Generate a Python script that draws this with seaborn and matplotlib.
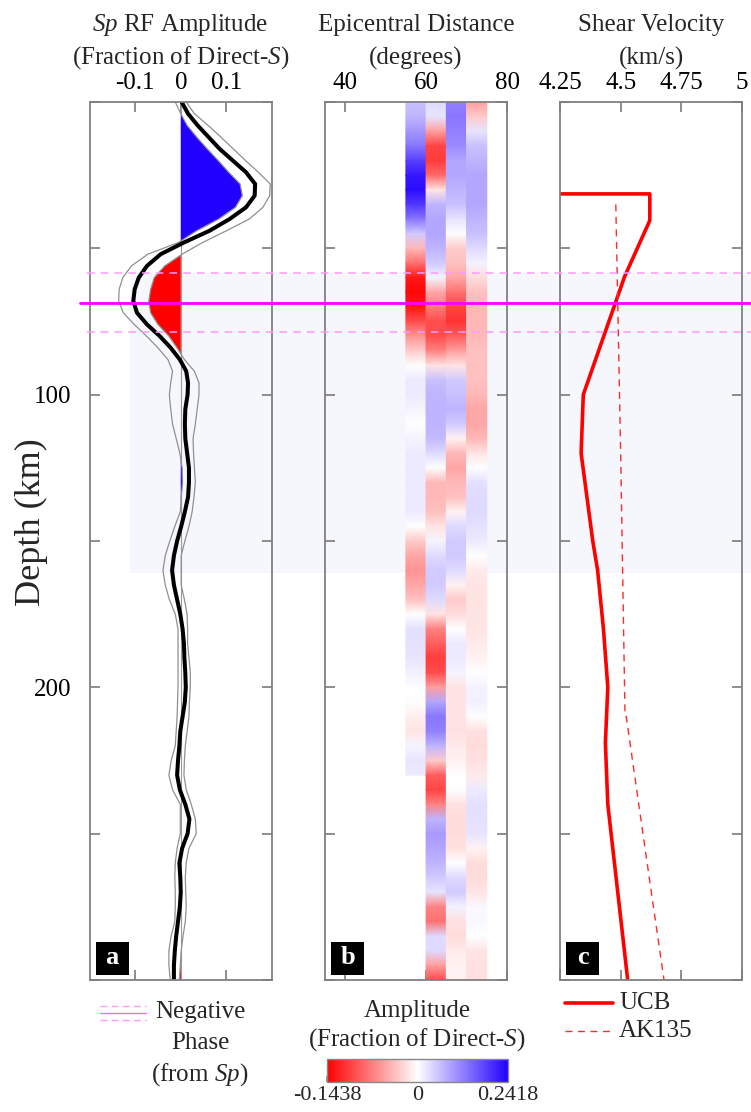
import numpy as np
import matplotlib
matplotlib.use("Agg")
import matplotlib.pyplot as plt
import seaborn as sns
from matplotlib.colors import LinearSegmentedColormap, TwoSlopeNorm
from matplotlib.cm import ScalarMappable
from matplotlib.patches import Rectangle
from matplotlib.lines import Line2D

# ---------------- data ----------------
# Panel a: Sp receiver function (depth km, amplitude, lower / upper bound)
rf_depth = [0, 4, 8, 12, 16, 20, 24, 28, 32, 36, 40, 44, 48, 52, 56, 60, 64, 68, 72, 76,
            80, 84, 88, 92, 96, 100, 105, 110, 115, 120, 125, 130, 135, 140, 145, 150,
            155, 160, 165, 170, 175, 180, 185, 190, 195, 200, 205, 210, 215, 220, 225,
            230, 235, 240, 245, 250, 255, 260, 265, 270, 275, 280, 285, 290, 295, 300]
rf_amp = [0.002, 0.016, 0.037, 0.061, 0.085, 0.114, 0.143, 0.163, 0.162, 0.143, 0.107,
          0.063, 0.007, -0.044, -0.074, -0.092, -0.101, -0.104, -0.096, -0.074, -0.046,
          -0.022, -0.002, 0.012, 0.016, 0.015, 0.010, 0.009, 0.010, 0.014, 0.018, 0.018,
          0.016, 0.009, 0.001, -0.008, -0.015, -0.019, -0.015, -0.008, -0.001, 0.004,
          0.007, 0.008, 0.010, 0.011, 0.009, 0.004, -0.001, -0.003, -0.006, -0.008,
          -0.002, 0.010, 0.019, 0.015, 0.003, -0.003, -0.001, 0.000, -0.002, -0.006,
          -0.010, -0.013, -0.015, -0.015]
rf_lower = [-0.012, 0.000, 0.014, 0.035, 0.058, 0.082, 0.105, 0.130, 0.135, 0.120, 0.083,
            0.035, -0.005, -0.072, -0.108, -0.127, -0.135, -0.136, -0.126, -0.102, -0.075,
            -0.050, -0.028, -0.018, -0.022, -0.025, -0.022, -0.018, -0.010, -0.002, 0.003,
            0.004, 0.001, -0.001, -0.013, -0.024, -0.034, -0.039, -0.034, -0.025, -0.012,
            -0.006, -0.006, -0.006, -0.006, -0.006, -0.007, -0.008, -0.010, -0.012, -0.021,
            -0.026, -0.018, -0.001, -0.001, -0.001, -0.008, -0.012, -0.013, -0.012, -0.012,
            -0.013, -0.021, -0.026, -0.026, -0.023]
rf_upper = [0.012, 0.030, 0.060, 0.088, 0.115, 0.142, 0.170, 0.196, 0.195, 0.180, 0.150,
            0.100, 0.048, 0.003, -0.035, -0.058, -0.066, -0.070, -0.066, -0.050, -0.026,
            -0.008, 0.008, 0.030, 0.040, 0.040, 0.036, 0.032, 0.027, 0.028, 0.030, 0.032,
            0.029, 0.025, 0.018, 0.009, 0.001, 0.001, 0.001, 0.008, 0.014, 0.015, 0.015,
            0.018, 0.021, 0.021, 0.019, 0.018, 0.014, 0.010, 0.008, 0.007, 0.012, 0.023,
            0.032, 0.034, 0.018, 0.012, 0.010, 0.011, 0.012, 0.010, 0.005, 0.001, -0.001,
            -0.003]

# Panel b: binned amplitudes (4 epicentral-distance bins, 5-km depth rows)
bin_edges = [55, 60, 65, 70, 75]
hm_depth = list(range(0, 301, 5))
nan = np.nan
hm_bin1 = [0.06, 0.07, 0.10, 0.13, 0.18, 0.22, 0.23, 0.19, 0.13, 0.05, -0.04, -0.08, -0.13,
           -0.14, -0.13, -0.10, -0.06, -0.03, 0.00, 0.02, 0.02, 0.01, 0.00, 0.01, 0.02, 0.02,
           0.02, 0.02, 0.02, 0.00, -0.03, -0.05, -0.06, -0.05, -0.035, 0.00, 0.03, 0.03,
           0.025, 0.015, 0.00, 0.00, -0.01, -0.015, 0.01, 0.025, 0.02,
           nan, nan, nan, nan, nan, nan, nan, nan, nan, nan, nan, nan, nan, nan]
hm_bin2 = [0.035, 0.025, -0.055, -0.105, -0.11, -0.085, -0.015, 0.07, 0.085, 0.085, 0.07,
           0.05, 0.01, -0.05, -0.075, -0.10, -0.10, -0.07, -0.015, 0.06, 0.07, 0.07, 0.07,
           0.065, 0.035, 0.00, -0.04, -0.04, -0.035, -0.015, 0.01, 0.035, 0.05, 0.05, 0.035,
           -0.015, -0.07, -0.09, -0.11, -0.10, -0.055, 0.085, 0.13, 0.12, 0.07, -0.03, -0.09,
           -0.105, -0.07, 0.07, 0.095, 0.085, 0.07, 0.05, 0.025, -0.07, -0.08, 0.035, 0.035,
           -0.055, -0.10]
hm_bin3 = [0.12, 0.13, 0.12, 0.11, 0.085, 0.085, 0.07, 0.06, 0.025, 0.00, -0.03, -0.035,
           -0.05, -0.08, -0.105, -0.115, -0.09, -0.055, -0.015, 0.05, 0.06, 0.07, 0.05,
           -0.007, -0.04, -0.05, -0.04, -0.035, -0.007, 0.035, 0.05, 0.05, 0.035, -0.007,
           -0.03, -0.02, 0.00, 0.02, 0.02, 0.01, -0.015, -0.015, -0.015, -0.017, -0.012,
           -0.007, 0.00, 0.00, -0.017, -0.02, -0.02, -0.017, 0.00, 0.035, 0.05, 0.012,
           -0.017, -0.02, -0.012, -0.007, -0.007]
hm_bin4 = [-0.055, -0.03, 0.025, 0.06, 0.07, 0.085, 0.085, 0.085, 0.07, 0.06, 0.035, 0.012,
           -0.02, -0.035, -0.04, -0.04, -0.04, -0.035, -0.035, -0.035, -0.04, -0.05, -0.05,
           -0.04, -0.015, 0.00, 0.03, 0.035, 0.035, 0.03, 0.02, 0.00, -0.012, -0.015,
           -0.015, -0.015, -0.015, -0.012, -0.007, 0.00, 0.012, 0.015, 0.00, -0.017, -0.02,
           -0.017, -0.012, 0.02, 0.03, 0.03, 0.025, -0.007, -0.02, -0.02, -0.015, 0.007,
           0.007, 0.00, -0.015, -0.017, -0.017]
amp_min, amp_max = -0.1438, 0.2418

# Panel c: shear velocity models
ucb_depth = [31.4, 31.4, 40.5, 59.7, 100, 120, 150, 160, 180, 200, 219, 240, 300]
ucb_vs = [4.20, 4.62, 4.62, 4.516, 4.346, 4.337, 4.385, 4.405, 4.429, 4.447, 4.437, 4.447, 4.529]
ak_depth = [35, 77.5, 120, 165, 210, 210, 260, 310]
ak_vs = [4.48, 4.49, 4.50, 4.509, 4.518, 4.523, 4.609, 4.696]

# Negative phase depth (solid) and its bounds (dashed), shaded depth band
phase_depth = 68.6
phase_bounds = [58.5, 78.7]
band_depth = [58.5, 160.8]

# ---------------- style ----------------
sns.set_theme(style="ticks")
plt.rcParams["font.family"] = ["Liberation Serif", "DejaVu Serif"]
plt.rcParams["mathtext.fontset"] = "custom"
plt.rcParams["mathtext.rm"] = "Liberation Serif"
plt.rcParams["mathtext.it"] = "Liberation Serif:italic"
plt.rcParams["axes.unicode_minus"] = False

W, H = 751, 1112
fig = plt.figure(figsize=(W / 100, H / 100), dpi=100)
fig.patch.set_facecolor("white")


def fx(x):
    return x / W


def fy(y):
    return 1 - y / H


TOP, BOT = 102, 980
DEPTH_MAX = 300.0


def ypix(d):
    return TOP + (BOT - TOP) * d / DEPTH_MAX


def make_ax(left, right):
    ax = fig.add_axes([fx(left), fy(BOT), (right - left) / W, (BOT - TOP) / H])
    ax.set_facecolor("none")
    return ax


ax_a = make_ax(89.5, 272)
ax_b = make_ax(325, 507)
ax_c = make_ax(560, 742)

# shaded band (figure level, behind axes)
fig.patches.append(Rectangle((fx(130), fy(ypix(band_depth[1]))), fx(751) - fx(130),
                             fy(ypix(band_depth[0])) - fy(ypix(band_depth[1])),
                             transform=fig.transFigure, facecolor="#f6f6fd",
                             edgecolor="none", zorder=-5))

blue = "#2200ff"
red = "#ff0000"
cmap = LinearSegmentedColormap.from_list("rwb", [red, "#ffffff", blue])
norm = TwoSlopeNorm(vmin=amp_min, vcenter=0.0, vmax=amp_max)

# ---------------- panel a ----------------
d = np.array(rf_depth, float)
lo = np.array(rf_lower)
up = np.array(rf_upper)
ax_a.axvline(0, color="#9a9a9a", lw=0.8, zorder=1)
ax_a.fill_betweenx(d, 0, lo, where=lo > 0, interpolate=True, color=blue, lw=0, zorder=2)
ax_a.fill_betweenx(d, up, 0, where=up < 0, interpolate=True, color=red, lw=0, zorder=2)
sns.lineplot(x=rf_lower, y=rf_depth, orient="y", sort=False, estimator=None,
             color="#909090", lw=0.9, ax=ax_a, zorder=3)
sns.lineplot(x=rf_upper, y=rf_depth, orient="y", sort=False, estimator=None,
             color="#909090", lw=0.9, ax=ax_a, zorder=3)
sns.lineplot(x=rf_amp, y=rf_depth, orient="y", sort=False, estimator=None,
             color="black", lw=2.9, ax=ax_a, zorder=4)
ax_a.set_xlim(-0.2, 0.2)
ax_a.set_xticks([-0.1, 0, 0.1])
ax_a.set_xticklabels(["-0.1", "0", "0.1"])

# ---------------- panel b ----------------
cols = [hm_bin1, hm_bin2, hm_bin3, hm_bin4]
hd = np.array(hm_depth, float)
for i, vals in enumerate(cols):
    v = np.array(vals, float)
    ok = ~np.isnan(v)
    dd = hd[ok]
    vv = v[ok]
    X = np.column_stack([np.full(dd.size, bin_edges[i]), np.full(dd.size, bin_edges[i + 1])])
    Y = np.column_stack([dd, dd])
    C = np.column_stack([vv, vv])
    ax_b.pcolormesh(X, Y, C, shading="gouraud", cmap=cmap, norm=norm, zorder=2)
ax_b.set_xlim(35, 80)
ax_b.set_xticks([40, 60, 80])
ax_b.set_xticklabels(["40", "60", "80"])

# ---------------- panel c ----------------
sns.lineplot(x=ucb_vs, y=ucb_depth, orient="y", sort=False, estimator=None,
             color=red, lw=2.6, ax=ax_c, zorder=3)
sns.lineplot(x=ak_vs, y=ak_depth, orient="y", sort=False, estimator=None,
             color="#ff2a2a", lw=1.0, ax=ax_c, zorder=3)
ax_c.lines[-1].set_linestyle((0, (5, 4)))
ax_c.set_xlim(4.25, 5)
ax_c.set_xticks([4.25, 4.5, 4.75, 5])
ax_c.set_xticklabels(["4.25", "4.5", "4.75", "5"])

# ---------------- common axes styling ----------------
for ax, lab in zip([ax_a, ax_b, ax_c], ["a", "b", "c"]):
    ax.set_ylim(DEPTH_MAX, 0)
    ax.set_yticks([0, 50, 100, 150, 200, 250, 300])
    ax.set_xlabel("")
    ax.set_ylabel("")
    ax.tick_params(axis="both", which="both", direction="in", length=7, width=1.2,
                   color="#7a7a7a", top=True, bottom=True, left=True, right=True,
                   labeltop=True, labelbottom=False, labelleft=False, labelright=False,
                   labelsize=18, pad=6, labelcolor="black")
    for s in ax.spines.values():
        s.set_color("#808080")
        s.set_linewidth(1.3)
        s.set_zorder(6)
    if ax.get_legend() is not None:
        ax.get_legend().remove()
    # panel letter box
    bx0 = ax.get_position().x0 * W
    fig.patches.append(Rectangle((fx(bx0 + 6), fy(975)), 33 / W, 33 / H,
                                 transform=fig.transFigure, facecolor="black",
                                 edgecolor="none", zorder=5))
    fig.text(fx(bx0 + 22.5), fy(957), lab, color="white", fontsize=19, fontweight="bold",
             ha="center", va="center", zorder=6)

ax_a.tick_params(axis="y", labelleft=True, pad=13)
ax_a.set_yticklabels(["", "", "100", "", "200", "", ""])

# ---------------- negative phase lines ----------------
fig.lines.append(Line2D([fx(80), fx(751)], [fy(ypix(phase_depth))] * 2,
                        transform=fig.transFigure, color="#ff00ff", lw=2.0, zorder=7))
for pb in phase_bounds:
    fig.lines.append(Line2D([fx(87), fx(751)], [fy(ypix(pb))] * 2,
                            transform=fig.transFigure, color="#ff99ff", lw=1.1,
                            dashes=(5, 4), zorder=7))

# ---------------- titles ----------------
fs = 18
centers = [180.5, 416, 651]
line1 = [r"$\mathit{Sp}$ RF Amplitude", "Epicentral Distance", "Shear Velocity"]
line2 = [r"(Fraction of Direct-$\mathit{S}$)", "(degrees)", "(km/s)"]
for cx, t1, t2 in zip(centers, line1, line2):
    fig.text(fx(cx), fy(25), t1, ha="center", va="center", fontsize=fs)
    fig.text(fx(cx), fy(58), t2, ha="center", va="center", fontsize=fs)

fig.text(fx(31), fy(522), "Depth (km)", rotation=90, ha="center", va="center", fontsize=26)

# ---------------- legend: negative phase ----------------
fig.lines.append(Line2D([fx(100), fx(146)], [fy(1013)] * 2, transform=fig.transFigure,
                        color="#ff66ff", lw=1.0))
for yy in (1006, 1020):
    fig.lines.append(Line2D([fx(100), fx(146)], [fy(yy)] * 2, transform=fig.transFigure,
                            color="#ff99ff", lw=1.0, dashes=(5, 3)))
fig.text(fx(200), fy(1012), "Negative", ha="center", va="center", fontsize=18)
fig.text(fx(200), fy(1043), "Phase", ha="center", va="center", fontsize=18)
fig.text(fx(200), fy(1075), r"(from $\mathit{Sp}$)", ha="center", va="center", fontsize=18)

# ---------------- colorbar ----------------
fig.text(fx(417), fy(1011), "Amplitude", ha="center", va="center", fontsize=18)
fig.text(fx(417), fy(1040), r"(Fraction of Direct-$\mathit{S}$)", ha="center",
         va="center", fontsize=18)
cax = fig.add_axes([fx(327), fy(1082), 181 / W, 23 / H])
cb = fig.colorbar(ScalarMappable(norm=norm, cmap=cmap), cax=cax, orientation="horizontal")
cb.set_ticks([amp_min, 0, amp_max])
cb.set_ticklabels(["-0.1438", "0", "0.2418"])
cb.outline.set_edgecolor("#888888")
cb.outline.set_linewidth(1.0)
cax.tick_params(direction="in", length=4, color="#888888", labelsize=16, pad=3)
cax.minorticks_off()

# ---------------- legend: velocity models ----------------
fig.lines.append(Line2D([fx(565), fx(613)], [fy(1003)] * 2, transform=fig.transFigure,
                        color=red, lw=2.6))
fig.lines.append(Line2D([fx(565), fx(613)], [fy(1031)] * 2, transform=fig.transFigure,
                        color="#ff2a2a", lw=1.0, dashes=(5, 4)))
fig.text(fx(619), fy(1003), "UCB", ha="left", va="center", fontsize=18)
fig.text(fx(619), fy(1031), "AK135", ha="left", va="center", fontsize=18)

fig.savefig("out.png", dpi=100)
